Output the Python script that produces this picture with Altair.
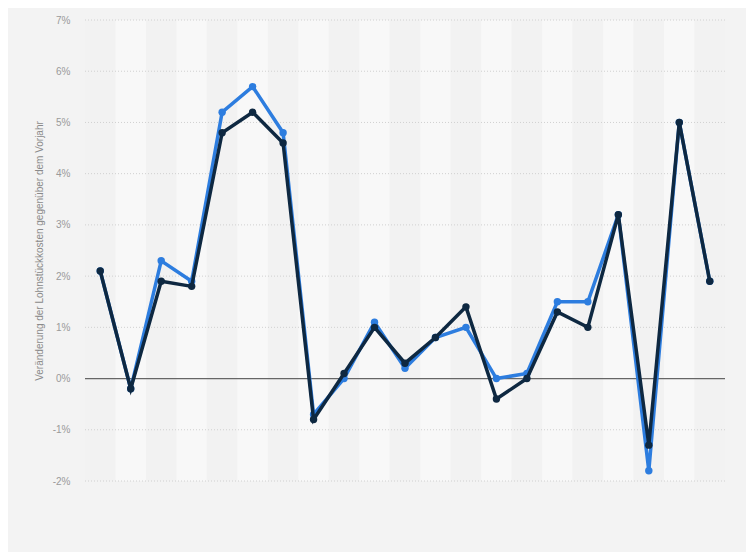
import altair as alt
import pandas as pd

years = [str(y) for y in range(2002, 2023)]
dark_values = [2.1, -0.2, 1.9, 1.8, 4.8, 5.2, 4.6, -0.8, 0.1, 1.0, 0.3, 0.8, 1.4, -0.4, 0.0, 1.3, 1.0, 3.2, -1.3, 5.0, 1.9]
blue_values = [2.1, -0.2, 2.3, 1.9, 5.2, 5.7, 4.8, -0.7, 0.0, 1.1, 0.2, 0.8, 1.0, 0.0, 0.1, 1.5, 1.5, 3.2, -1.8, 5.0, 1.9]
y_ticks = [-2, -1, 0, 1, 2, 3, 4, 5, 6, 7]

idx = list(range(len(years)))
df = pd.DataFrame({"i": idx, "year": years, "dark": dark_values, "blue": blue_values})
bands = pd.DataFrame({
    "x0": [i - 0.5 for i in idx],
    "x1": [i + 0.5 for i in idx],
    "shade": ["a" if i % 2 == 0 else "b" for i in idx],
})
grid = pd.DataFrame({"v": [t for t in y_ticks if t != 0]})
zero = pd.DataFrame({"v": [0]})

xscale = alt.Scale(domain=[-0.5, len(years) - 0.5], nice=False, zero=False)
yscale = alt.Scale(domain=[-2, 7], nice=False)

band_layer = alt.Chart(bands).mark_rect().encode(
    x=alt.X("x0:Q", scale=xscale, axis=None),
    x2="x1:Q",
    y=alt.value(0),
    y2=alt.value(461),
    color=alt.Color("shade:N", scale=alt.Scale(domain=["a", "b"], range=["#f2f2f2", "#f8f8f8"]), legend=None),
)

grid_layer = alt.Chart(grid).mark_rule(color="#d0d0d0", strokeWidth=1, strokeDash=[1, 2]).encode(
    y=alt.Y("v:Q", scale=yscale,
            axis=alt.Axis(values=y_ticks, labelExpr="datum.value + '%'", grid=False, domain=False, ticks=False,
                          labelFont="Liberation Sans", labelFontSize=10, labelColor="#9a9a9a", labelPadding=15,
                          title="Veränderung der Lohnstückkosten gegenüber dem Vorjahr",
                          titleFont="Liberation Sans", titleFontSize=10, titleFontWeight="normal",
                          titleColor="#8a8a8a", titlePadding=8)),
    x=alt.value(0),
    x2=alt.value(640),
)

zero_layer = alt.Chart(zero).mark_rule(color="#666666", strokeWidth=1.2).encode(
    y=alt.Y("v:Q", scale=yscale),
    x=alt.value(0),
    x2=alt.value(640),
)

blue_layer = alt.Chart(df).mark_line(color="#2d7ddf", strokeWidth=3.5,
                                     point=alt.OverlayMarkDef(color="#2d7ddf", size=55, filled=True, opacity=1)).encode(
    x=alt.X("i:Q", scale=xscale, axis=None),
    y=alt.Y("blue:Q", scale=yscale),
)

dark_layer = alt.Chart(df).mark_line(color="#0e2841", strokeWidth=3.5,
                                     point=alt.OverlayMarkDef(color="#0e2841", size=55, filled=True, opacity=1)).encode(
    x=alt.X("i:Q", scale=xscale, axis=None),
    y=alt.Y("dark:Q", scale=yscale),
)

chart = alt.layer(band_layer, grid_layer, zero_layer, blue_layer, dark_layer).properties(
    width=640,
    height=461,
    background="#f3f3f3",
    padding={"left": 77, "top": 12, "right": 21, "bottom": 71},
    autosize=alt.AutoSizeParams(type="none"),
).configure_view(stroke=None)

chart.save("out.html", embed_options={"renderer": "svg", "actions": False})
